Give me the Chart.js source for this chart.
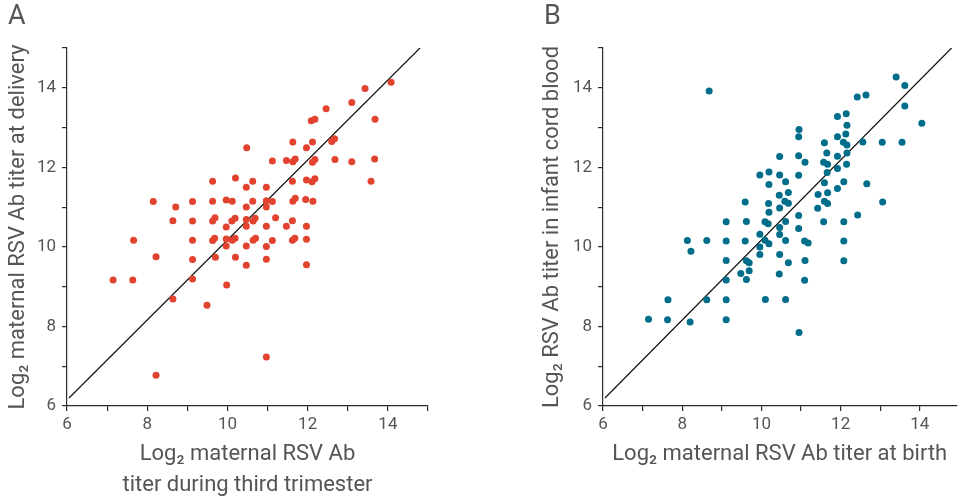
<!DOCTYPE html>
<html><head><meta charset="utf-8">
<script src="https://cdn.jsdelivr.net/npm/chart.js@4.4.1/dist/chart.umd.min.js"></script>
<style>
html,body{margin:0;padding:0;background:#fff;}
#wrap{position:relative;width:960px;height:501px;overflow:hidden;}
.panel{position:absolute;top:0;width:480px;height:501px;}
</style></head><body>
<div id="wrap">
<div class="panel" style="left:0"><canvas id="cA" width="480" height="501"></canvas></div>
<div class="panel" style="left:480px"><canvas id="cB" width="480" height="501"></canvas></div>
</div>
<script>
// Panel A: third trimester (x) vs delivery (y)
const aX = [14.08,13.43,13.1,12.46,13.68,12.09,12.18,11.63,12.12,10.48,11.97,12.6,12.67,11.12,11.47,11.63,11.69,12.12,12.18,12.68,13.1,13.67,10.2,10.63,9.63,10.47,10.97,11.62,11.97,12.11,12.18,13.58,8.15,8.71,9.13,9.63,9.97,10.12,10.47,10.63,10.97,10.97,11.12,11.63,11.69,11.95,12.13,8.64,9.13,9.63,9.69,9.97,10.11,10.19,10.47,10.47,10.64,10.69,10.97,11.2,11.47,11.62,11.97,7.66,9.13,9.63,9.68,9.97,9.97,10.12,10.19,10.47,10.64,10.7,10.97,11.12,11.62,11.68,11.97,8.22,9.13,9.7,10.2,10.47,10.97,11.97,7.15,7.64,9.13,9.98,8.64,9.49,10.97,8.22];
const aY = [14.14,13.98,13.63,13.47,13.21,13.17,13.21,12.64,12.64,12.49,12.49,12.65,12.72,12.16,12.17,12.14,12.21,12.13,12.2,12.2,12.14,12.21,11.73,11.65,11.65,11.5,11.5,11.65,11.68,11.64,11.71,11.65,11.14,11.0,11.14,11.15,11.18,11.15,11.0,11.15,11.16,11.0,11.14,11.15,11.22,11.19,11.15,10.66,10.65,10.65,10.73,10.5,10.65,10.72,10.69,10.52,10.65,10.72,10.52,10.73,10.52,10.66,10.52,10.17,10.17,10.16,10.22,10.2,10.02,10.17,10.22,10.02,10.17,10.22,10.01,10.16,10.17,10.22,10.19,9.75,9.68,9.74,9.74,9.54,9.69,9.55,9.17,9.17,9.19,9.04,8.69,8.53,7.23,6.77];
// Panel B: maternal at birth (x) vs infant cord blood (y)
const bX = [13.4,13.62,8.68,12.42,12.64,13.62,11.92,12.14,12.16,14.05,10.95,10.94,11.92,12.13,11.59,12.07,12.16,12.56,13.05,13.55,11.65,12.16,10.46,10.94,11.92,11.1,11.57,11.67,12.15,11.92,9.96,10.19,10.46,10.94,11.66,10.19,10.61,11.59,12.08,12.66,11.92,10.68,10.45,11.43,11.67,9.59,10.18,10.59,10.68,11.59,11.67,13.06,10.46,11.42,10.19,10.94,12.43,9.11,9.62,10.09,10.17,10.61,11.57,12.08,10.46,10.94,9.96,10.46,8.13,8.62,9.11,9.59,10.09,10.19,10.61,11.09,11.18,12.08,8.22,9.96,9.96,10.46,9.11,9.62,9.69,10.68,11.1,12.08,9.69,9.48,10.45,9.11,9.62,11.09,7.64,8.62,9.11,10.1,10.61,7.15,7.63,8.2,9.11,10.95];
const bY = [14.27,14.06,13.92,13.77,13.82,13.54,13.28,13.35,13.06,13.11,12.95,12.77,12.77,12.84,12.62,12.63,12.56,12.64,12.63,12.63,12.36,12.36,12.27,12.29,12.28,12.13,12.13,12.08,12.08,11.97,11.81,11.88,11.81,11.8,11.87,11.57,11.64,11.61,11.64,11.59,11.47,11.37,11.3,11.32,11.36,11.13,11.09,11.15,11.1,11.15,11.09,11.13,10.98,10.97,10.87,10.79,10.8,10.63,10.64,10.63,10.58,10.64,10.63,10.63,10.49,10.46,10.32,10.31,10.16,10.16,10.15,10.15,10.17,10.08,10.16,10.15,10.1,10.15,9.89,10.0,9.81,9.81,9.66,9.65,9.6,9.6,9.66,9.65,9.4,9.33,9.32,9.17,9.18,9.16,8.67,8.67,8.67,8.68,8.68,8.18,8.17,8.11,8.17,7.85];
// identity reference line endpoints
const refX = [6.05, 14.8];
const refY = [6.2, 15];
const tickStep = 1;
const titleA = "A", titleB = "B";
const xTitleA = ["Log\u2082 maternal RSV Ab", "titer during third trimester"];
const yTitleA = "Log\u2082 maternal RSV Ab titer at delivery";
const xTitleB = "Log\u2082 maternal RSV Ab titer at birth";
const yTitleB = "Log\u2082 RSV Ab titer in infant cord blood";

const FONT = "Roboto, 'Open Sans', sans-serif";
const TXT = '#555555';
const AX = '#2a2a2a';

function pts(xs, ys){ return xs.map((x,i)=>({x:x, y:ys[i]})); }

const letterPlugin = {
  id:'panelLetter',
  afterDraw(chart, args, opts){
    const ctx = chart.ctx;
    ctx.save();
    ctx.fillStyle = TXT;
    ctx.font = '27px ' + FONT;
    ctx.textBaseline = 'top';
    ctx.textAlign = 'left';
    ctx.fillText(opts.text, opts.x, opts.y);
    ctx.restore();
  }
};

function makeChart(id, cfg){
  const tickCb = v => (Math.abs(v % 2) < 1e-9 ? String(v) : '');
  return new Chart(document.getElementById(id), {
    type:'scatter',
    data:{datasets:[
      {data: pts(cfg.xs, cfg.ys), backgroundColor: cfg.color, borderWidth:0, pointRadius:3.5, pointHoverRadius:3.5},
      {type:'line', data: pts(refX, refY), borderColor:'#111', borderWidth:1.2, pointRadius:0, fill:false, tension:0}
    ]},
    plugins:[letterPlugin],
    options:{
      responsive:false, animation:false, devicePixelRatio:1,
      layout:{padding:{left:cfg.padLeft, right:cfg.padRight, top:48, bottom:0}},
      plugins:{legend:{display:false}, tooltip:{enabled:false},
        panelLetter:{text:cfg.letter, x:cfg.letterX, y:4}},
      scales:{
        x:{type:'linear', position:'bottom', min:6, max:cfg.xMax,
          border:{color:AX, width:1.2},
          grid:{drawOnChartArea:false, drawTicks:true, tickLength:5, color:AX, lineWidth:1.2},
          ticks:{stepSize:tickStep, includeBounds:false, autoSkip:false, maxRotation:0, callback:tickCb, color:TXT, font:{family:FONT, size:17}, padding:4},
          title:{display:true, text:cfg.xTitle, color:TXT, font:{family:FONT, size:22, lineHeight:1.41}, padding:{top:0, bottom:cfg.xTitlePad}},
          afterFit:s=>{s.height = 95;}
        },
        y:{type:'linear', position:'left', min:6, max:15,
          border:{color:AX, width:1.2},
          grid:{drawOnChartArea:false, drawTicks:true, tickLength:5, color:AX, lineWidth:1.2},
          ticks:{stepSize:tickStep, autoSkip:false, callback:tickCb, color:TXT, font:{family:FONT, size:17}, padding:6},
          title:{display:true, text:cfg.yTitle, color:TXT, font:{family:FONT, size:22, lineHeight:1.2}, padding:{top:5, bottom:0}},
          afterFit:s=>{s.width = cfg.yWidth;}
        }
      }
    }
  });
}

makeChart('cA', {xs:aX, ys:aY, color:'#E2432F', xMax:15, padLeft:0, padRight:52, yWidth:67,
  xTitle:xTitleA, yTitle:yTitleA, xTitlePad:0, letter:titleA, letterX:8});
makeChart('cB', {xs:bX, ys:bY, color:'#006E8A', xMax:14.925, padLeft:54, padRight:0, yWidth:69,
  xTitle:xTitleB, yTitle:yTitleB, xTitlePad:31, letter:titleB, letterX:64});
</script>
</body></html>
